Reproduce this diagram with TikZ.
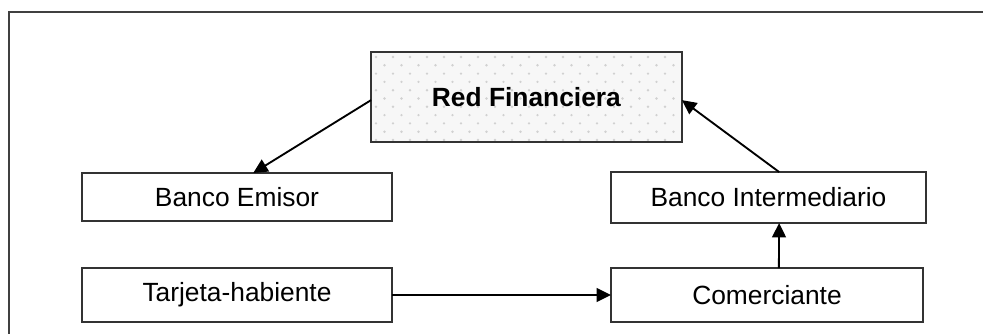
\documentclass[tikz,border=0pt]{standalone}
\usepackage{fontspec}
\setmainfont{Liberation Sans}
\usetikzlibrary{arrows.meta}

\begin{document}
\begin{tikzpicture}[x=0.016cm, y=-0.016cm,
        every node/.style={draw=black!80, line width=0.9pt, inner sep=0pt, outer sep=0pt, font=\fontsize{12}{14}\selectfont},
        flecha/.style={line width=0.85pt, -{Triangle[length=0.23cm, width=0.22cm]}}]
            \useasboundingbox (0,0) rectangle (983,334);
            \begin{scope}
            \clip (0,0) rectangle (983,334);
            \draw[black!75, line width=1.1pt] (9,345) -- (9,12) -- (995,12);
            \end{scope}
            \node[fill=black!3, minimum width=4.976cm, minimum height=1.44cm] (rf) at (526.5,97) {};
            % puntos del relleno
            \begin{scope}
            \clip (373,54) rectangle (680,140);
            \foreach \fila in {0,...,10}
                \foreach \col in {0,...,19}
                    \fill[black!18] ({376+17*\col+8.5*mod(\fila,2)},{57+8.3*\fila}) circle (0.6pt);
            \end{scope}
            \node[draw=none] (rftexto) at (rf.center) {\textbf{Red Financiera}};
            \node[minimum width=4.96cm, minimum height=0.768cm] (be) at (237,197) {Banco Emisor};
            \node[minimum width=5.04cm, minimum height=0.816cm] (bi) at (768.5,197.5) {Banco Intermediario};
            \node[minimum width=4.96cm, minimum height=0.864cm] (th) at (237,295) {Tarjeta-habiente};
            \node[minimum width=4.992cm, minimum height=0.864cm] (co) at (767,295) {Comerciante};
            \draw[flecha] ([yshift=-0.05cm]rf.west) -- ([xshift=0.26cm]be.north);
            \draw[flecha] ([xshift=0.17cm]bi.north) -- ([yshift=-0.05cm]rf.east);
            \draw[flecha] ([xshift=0.19cm]co.north) -- ([xshift=0.17cm]bi.south);
            \draw[flecha] (th.east) -- (co.west);
        \end{tikzpicture}
\end{document}
